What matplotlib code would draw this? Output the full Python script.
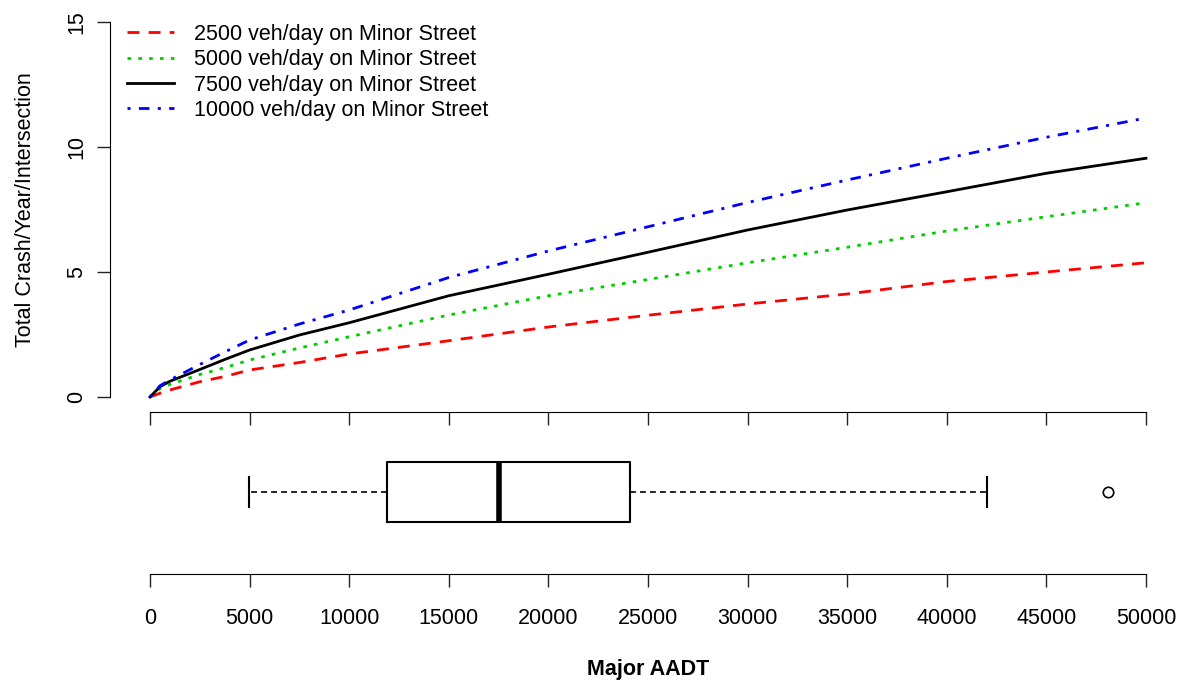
import matplotlib
matplotlib.use("Agg")
import matplotlib.pyplot as plt

plt.rcParams['font.family'] = ['Liberation Sans', 'DejaVu Sans']

# curves
aadt = [0, 500, 1000, 2500, 3750, 5000, 7500, 10000, 15000, 20000, 25000,
        30000, 35000, 40000, 45000, 50000]
minor_2500 = [0, 0.15, 0.28, 0.61, 0.82, 1.08, 1.38, 1.72, 2.25, 2.80, 3.27,
              3.72, 4.12, 4.62, 5.00, 5.37]
minor_5000 = [0, 0.34, 0.50, 0.90, 1.17, 1.48, 1.96, 2.41, 3.28, 4.05, 4.70,
              5.37, 5.99, 6.64, 7.21, 7.77]
minor_7500 = [0, 0.41, 0.63, 1.10, 1.50, 1.88, 2.48, 2.97, 4.05, 4.91, 5.79,
              6.68, 7.48, 8.21, 8.95, 9.55]
minor_10000 = [0, 0.45, 0.68, 1.30, 1.80, 2.28, 2.92, 3.48, 4.78, 5.84, 6.81,
               7.78, 8.68, 9.55, 10.39, 11.16]
labels = ["2500 veh/day on Minor Street", "5000 veh/day on Minor Street",
          "7500 veh/day on Minor Street", "10000 veh/day on Minor Street"]

# boxplot of major AADT
box_stats = dict(whislo=4950, q1=11900, med=17500, q3=24100, whishi=42000, fliers=[48100])

xticks = list(range(0, 50001, 5000))
yticks = [0, 5, 10, 15]

W, H = 1178, 683
FS = 15.5

def rect(l, t, r, b):
    return [l / W, 1 - b / H, (r - l) / W, (b - t) / H]

fig = plt.figure(figsize=(W / 100, H / 100), dpi=100)

# top panel
ax = fig.add_axes(rect(110.16, 7, 1185.84, 412))
ax.patch.set_visible(False)
ax.set_xlim(-2000, 52000)
ax.set_ylim(-0.6, 15.6)
lw = 2.0
ax.plot(aadt, minor_2500, color='red', lw=lw, dashes=(4.3, 3.3), label=labels[0])
ax.plot(aadt, minor_5000, color='#00cd00', lw=lw, dashes=(1.3, 2.6), label=labels[1])
ax.plot(aadt, minor_7500, color='black', lw=lw, label=labels[2])
ax.plot(aadt, minor_10000, color='blue', lw=lw, dashes=(1.1, 3.0, 3.8, 3.0), label=labels[3])

for s in ['top', 'right']:
    ax.spines[s].set_visible(False)
ax.spines['left'].set_bounds(0, 15)
ax.spines['bottom'].set_bounds(0, 50000)
ax.set_xticks(xticks)
ax.set_xticklabels([])
ax.set_yticks(yticks)
ax.set_yticklabels([str(v) for v in yticks], rotation=90, va='center', fontsize=FS)
ax.tick_params(direction='out', length=9.4, width=1, color='#222222', pad=7)
ax.set_ylabel("Total Crash/Year/Intersection", fontsize=FS, labelpad=22)

leg = ax.legend(loc='upper left', bbox_to_anchor=(127 / W, 1 - 24 / H),
                bbox_transform=fig.transFigure, frameon=False, fontsize=FS,
                handlelength=2.2, handletextpad=0.9, labelspacing=0.2,
                borderpad=0, borderaxespad=0)

# bottom panel: boxplot
bx = fig.add_axes(rect(110.16, 410, 1185.84, 574))
bx.patch.set_visible(False)
bx.bxp([box_stats], vert=False, widths=0.40, showfliers=True, positions=[1],
       boxprops=dict(color='black', lw=1.5),
       medianprops=dict(color='black', lw=4, solid_capstyle='butt'),
       whiskerprops=dict(color='black', lw=1.2, dashes=(3.5, 2.5)),
       capprops=dict(color='black', lw=1.5),
       flierprops=dict(marker='o', markerfacecolor='none', markeredgecolor='black',
                       markersize=7.5, markeredgewidth=1.2))
bx.set_xlim(-2000, 52000)
bx.set_ylim(0.46, 1.54)
for s in ['top', 'right', 'left']:
    bx.spines[s].set_visible(False)
bx.spines['bottom'].set_bounds(0, 50000)
bx.set_yticks([])
bx.set_xticks(xticks)
bx.set_xticklabels([str(v) for v in xticks], fontsize=FS)
bx.tick_params(direction='out', length=9.4, width=1, color='#222222', pad=15)
bx.set_xlabel("Major AADT", fontsize=FS, fontweight='bold', labelpad=22)

fig.savefig("out.png", dpi=100)
